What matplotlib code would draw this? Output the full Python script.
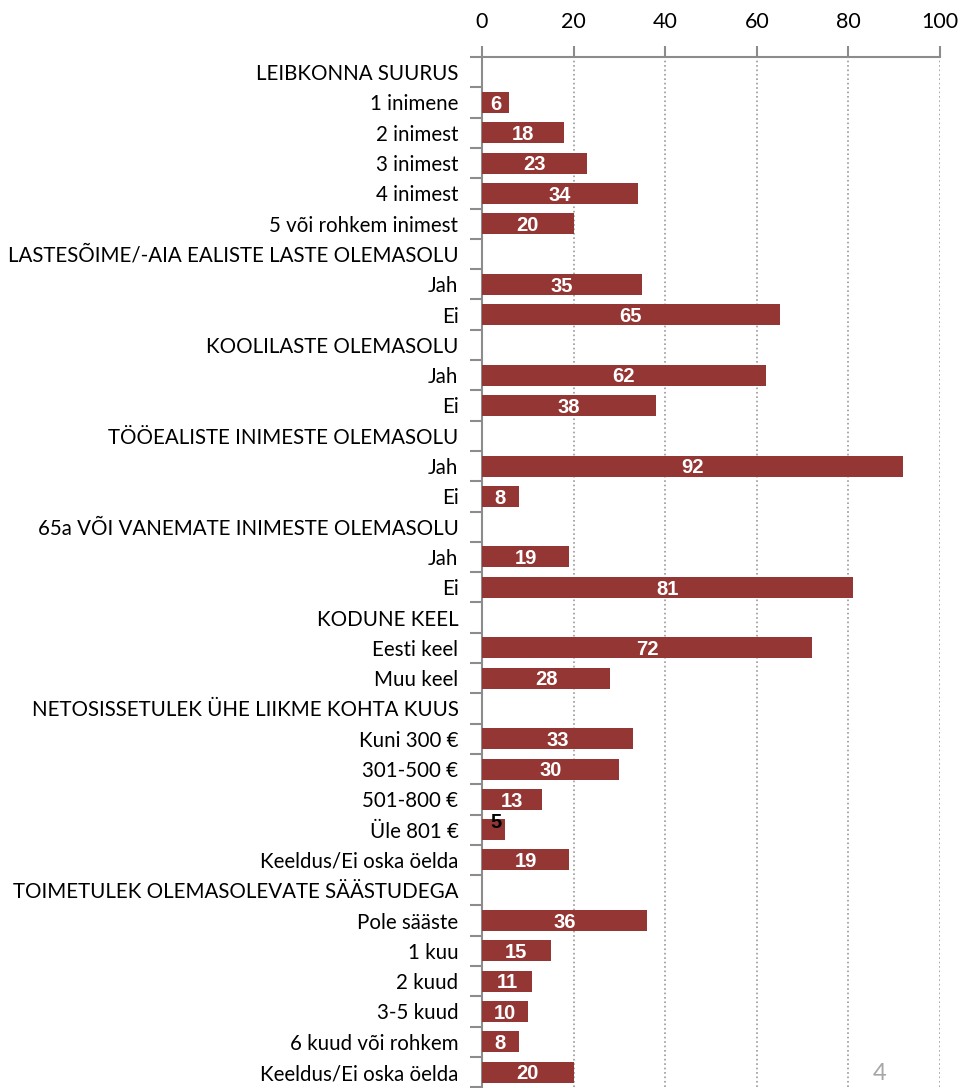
import matplotlib
matplotlib.use('Agg')
import matplotlib.pyplot as plt
import numpy as np

labels = ['LEIBKONNA SUURUS', '1 inimene', '2 inimest', '3 inimest', '4 inimest',
          '5 või rohkem inimest',
          'LASTESÕIME/-AIA EALISTE LASTE OLEMASOLU', 'Jah', 'Ei',
          'KOOLILASTE OLEMASOLU', 'Jah', 'Ei',
          'TÖÖEALISTE INIMESTE OLEMASOLU', 'Jah', 'Ei',
          '65a VÕI VANEMATE INIMESTE OLEMASOLU', 'Jah', 'Ei',
          'KODUNE KEEL', 'Eesti keel', 'Muu keel',
          'NETOSISSETULEK ÜHE LIIKME KOHTA KUUS', 'Kuni 300 €', '301-500 €',
          '501-800 €', 'Üle 801 €', 'Keeldus/Ei oska öelda',
          'TOIMETULEK OLEMASOLEVATE SÄÄSTUDEGA', 'Pole sääste', '1 kuu', '2 kuud',
          '3-5 kuud', '6 kuud või rohkem', 'Keeldus/Ei oska öelda']
# None = header row without a bar
values = [None, 6, 18, 23, 34, 20,
          None, 35, 65,
          None, 62, 38,
          None, 92, 8,
          None, 19, 81,
          None, 72, 28,
          None, 33, 30, 13, 5, 19,
          None, 36, 15, 11, 10, 8, 20]

bar_color = '#943634'
axis_grey = '#8c8c8c'
label_font = 'Lato'

fig = plt.figure(figsize=(9.65, 10.88), dpi=100)
n = len(labels)
top = 1 - 57 / 1088
height = n * 30.3 / 1088
ax = fig.add_axes([482 / 965, top - height, (940 - 482) / 965, height])

y = np.arange(n)
vals = np.array([v if v is not None else 0 for v in values], dtype=float)
ax.barh(y, vals, height=0.69, color=bar_color, zorder=3)

for yi, v in zip(y, values):
    if v is None:
        continue
    if v < 6:
        ax.text(v / 2 + 0.5, yi - 0.22, str(v), ha='center', va='center', color='black',
                fontsize=14.5, fontweight='bold', family='Liberation Sans', zorder=4)
    else:
        ax.text(v / 2, yi + 0.06, str(v), ha='center', va='center', color='white',
                fontsize=14.5, fontweight='bold', family='Liberation Sans', zorder=4)

ax.set_xlim(0, 100)
ax.set_ylim(n - 0.5, -0.5)
ax.xaxis.tick_top()
ax.set_xticks([0, 20, 40, 60, 80, 100])
ax.tick_params(axis='x', labelsize=15.5, length=8, color=axis_grey, width=1.5, pad=10)
for t in ax.get_xticklabels():
    t.set_family(label_font)

ax.set_yticks(y)
ax.set_yticklabels(labels, fontsize=14.8, family=label_font)
ax.set_yticks(np.arange(n + 1) - 0.5, minor=True)
ax.tick_params(axis='y', which='major', length=0, pad=17)
ax.tick_params(axis='y', which='minor', length=9, color=axis_grey, width=1.5)

ax.grid(axis='x', linestyle=':', color='#999999', linewidth=1.2, zorder=0)
for s in ['right', 'bottom']:
    ax.spines[s].set_visible(False)
for s in ['top', 'left']:
    ax.spines[s].set_color(axis_grey)
    ax.spines[s].set_linewidth(1.5)

fig.text(880 / 965, 1 - 1074 / 1088, '4', color='#a6a6a6', fontsize=17,
         ha='center', va='center', family=label_font)

fig.savefig('out.png', dpi=100)
